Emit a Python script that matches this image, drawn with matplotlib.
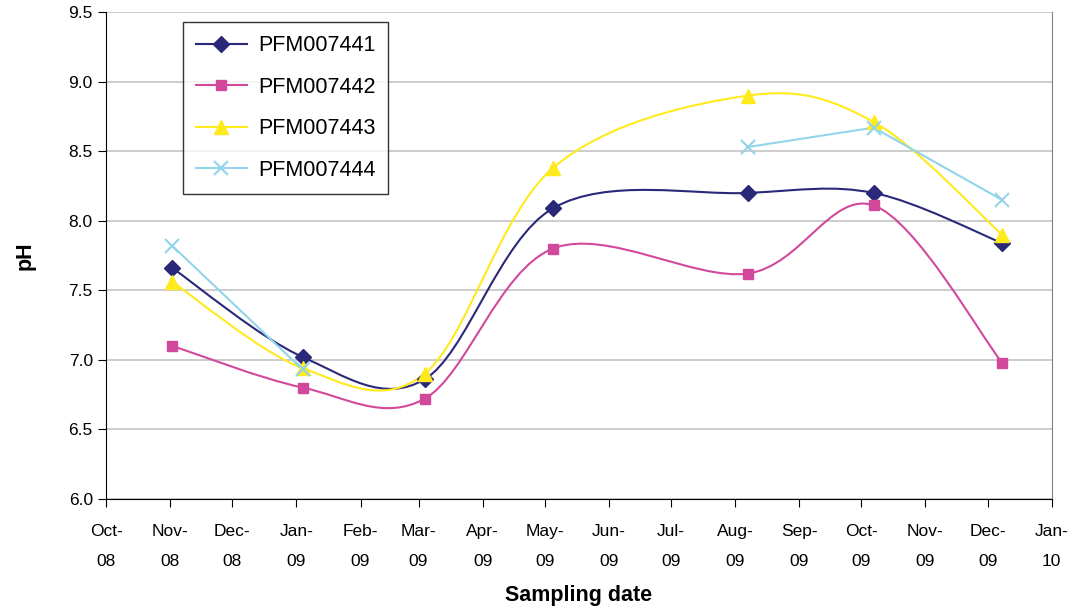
import datetime as dt

import numpy as np
import matplotlib
matplotlib.use("Agg")
import matplotlib.pyplot as plt
import matplotlib.dates as mdates
from matplotlib.path import Path
from matplotlib.patches import PathPatch
from matplotlib.lines import Line2D

plt.rcParams["font.family"] = ["Liberation Sans", "DejaVu Sans"]

# sampling dates
dates = [
    dt.date(2008, 11, 2),
    dt.date(2009, 1, 4),
    dt.date(2009, 3, 4),
    dt.date(2009, 5, 5),
    dt.date(2009, 8, 7),
    dt.date(2009, 10, 7),
    dt.date(2009, 12, 8),
]

ph_7441 = [7.66, 7.02, 6.86, 8.09, 8.20, 8.20, 7.84]
ph_7442 = [7.10, 6.80, 6.72, 7.80, 7.62, 8.11, 6.98]
ph_7443 = [7.56, 6.94, 6.90, 8.38, 8.90, 8.71, 7.90]
ph_7444 = [7.82, 6.93, np.nan, np.nan, 8.53, 8.67, 8.15]

series_names = ["PFM007441", "PFM007442", "PFM007443", "PFM007444"]
series_values = [ph_7441, ph_7442, ph_7443, ph_7444]
colors = ["#2A2878", "#D2499B", "#FFEA1C", "#92D4EA"]
markers = ["D", "s", "^", "x"]
msizes = [8, 7.5, 10, 9.5]
smoothed = [True, True, True, False]


def smooth_path(x, y):
    """Excel-style smoothed line: Catmull-Rom cubic Bezier segments."""
    pts = np.column_stack([x, y])
    n = len(pts)
    verts = [pts[0]]
    codes = [Path.MOVETO]
    for i in range(n - 1):
        p0 = pts[i - 1] if i > 0 else pts[i]
        p1 = pts[i]
        p2 = pts[i + 1]
        p3 = pts[i + 2] if i + 2 < n else pts[i + 1]
        c1 = p1 + (p2 - p0) / 6.0
        c2 = p2 - (p3 - p1) / 6.0
        verts += [c1, c2, p2]
        codes += [Path.CURVE4] * 3
    return Path(verts, codes)


fig = plt.figure(figsize=(10.71, 6.12), dpi=100)
ax = fig.add_axes([0.099, 0.185, 0.883, 0.795])

xnum = mdates.date2num(dates)
handles = []
for name, vals, col, mk, ms, sm in zip(series_names, series_values, colors,
                                       markers, msizes, smoothed):
    vals = np.asarray(vals, dtype=float)
    ok = ~np.isnan(vals)
    # split into runs of consecutive valid points
    runs, cur = [], []
    for i in range(len(vals)):
        if ok[i]:
            cur.append(i)
        elif cur:
            runs.append(cur)
            cur = []
    if cur:
        runs.append(cur)
    for r in runs:
        if len(r) < 2:
            continue
        if sm:
            patch = PathPatch(smooth_path(xnum[r], vals[r]), facecolor="none",
                              edgecolor=col, lw=1.5, zorder=3)
            ax.add_patch(patch)
        else:
            ax.plot(xnum[r], vals[r], color=col, lw=1.5, zorder=3)
    mew = 1.5 if mk == "x" else 1.0
    ax.plot(xnum[ok], vals[ok], linestyle="none", marker=mk, markersize=ms,
            color=col, markeredgewidth=mew, zorder=4)
    handles.append(Line2D([], [], color=col, lw=1.5, marker=mk, markersize=ms,
                          markeredgewidth=mew, label=name))

ax.set_xlim(mdates.date2num(dt.date(2008, 10, 1)), mdates.date2num(dt.date(2010, 1, 1)))
ax.set_ylim(6.0, 9.5)
ax.set_yticks(np.arange(6.0, 9.51, 0.5))
ax.yaxis.set_major_formatter(plt.FormatStrFormatter("%.1f"))
ax.xaxis.set_major_locator(mdates.MonthLocator())
ax.xaxis.set_major_formatter(mdates.DateFormatter("%b-\n%y"))

ax.grid(axis="y", color="#C4C4C4", lw=1.2)
ax.set_axisbelow(True)
ax.spines["top"].set_visible(False)
ax.spines["right"].set_color("#808080")
ax.spines["left"].set_color("black")
ax.spines["bottom"].set_color("black")

ax.tick_params(axis="x", direction="out", length=6, labelsize=12.5, pad=12)
ax.tick_params(axis="y", direction="out", length=6, labelsize=12.5)
for lbl in ax.get_xticklabels():
    lbl.set_linespacing(2.25)

ax.set_xlabel("Sampling date", fontsize=15.5, fontweight="bold", labelpad=12)
ax.set_ylabel("pH", fontsize=15.5, fontweight="bold", labelpad=24)

leg = ax.legend(handles=handles, loc="upper left", bbox_to_anchor=(0.081, 0.979),
                fontsize=15.5, frameon=True, fancybox=False, edgecolor="black",
                handlelength=2.4, labelspacing=0.95, borderpad=0.6,
                handletextpad=0.5, borderaxespad=0)
leg.get_frame().set_linewidth(1.0)

fig.savefig("out.png", dpi=100)
